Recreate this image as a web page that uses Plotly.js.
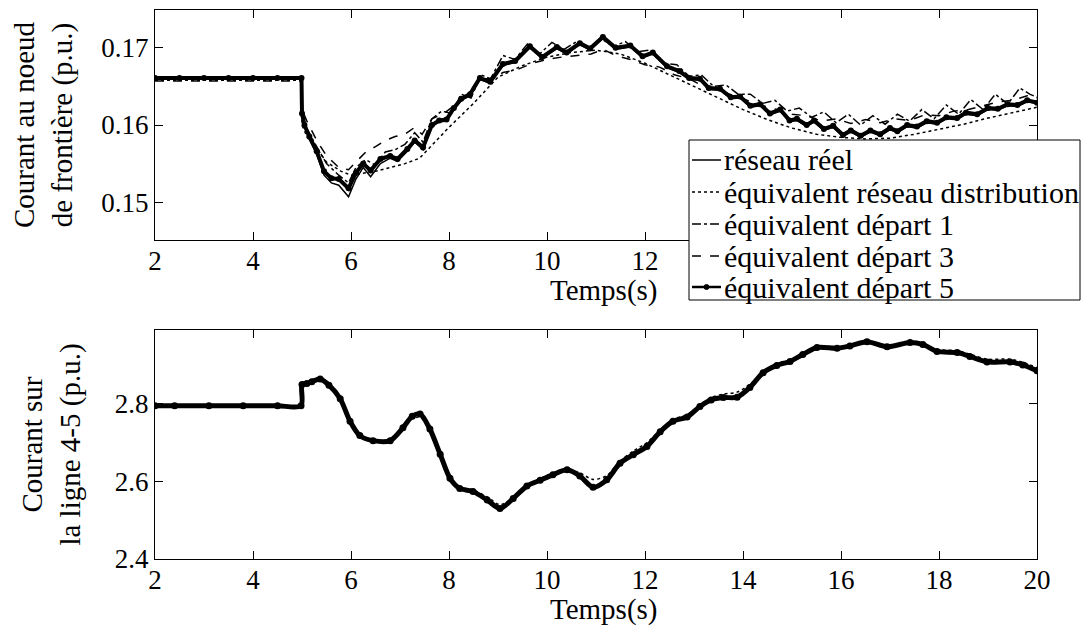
<!DOCTYPE html>
<html>
<head>
<meta charset="utf-8">
<script src="https://cdn.plot.ly/plotly-3.0.1.min.js"></script>
<style>html,body{margin:0;padding:0;background:#fff;}#chart{width:1087px;height:625px;}</style>
</head>
<body>
<div id="chart"></div>
<script>
// ---------- Top plot: Courant au noeud de frontière ----------
const haut_t5 = [2, 2.5, 3.0, 3.5, 4.0, 4.5, 4.99, 5.0, 5.05, 5.15, 5.3, 5.45, 5.6, 5.75, 5.95, 6.1, 6.25, 6.4, 6.6, 6.8, 6.95, 7.15, 7.3, 7.47, 7.65, 7.8, 7.95, 8.1, 8.25, 8.43, 8.63, 8.84, 9.1, 9.35, 9.65, 9.9, 10.2, 10.4, 10.67, 10.88, 11.14, 11.4, 11.7, 11.95, 12.16, 12.45, 12.7, 12.9, 13.12, 13.3, 13.53, 13.75, 13.94, 14.15, 14.35, 14.55, 14.76, 14.95, 15.1, 15.3, 15.45, 15.65, 15.84, 16.04, 16.2, 16.4, 16.6, 16.8, 17.0, 17.15, 17.35, 17.55, 17.75, 17.96, 18.15, 18.37, 18.55, 18.78, 19.0, 19.2, 19.4, 19.6, 19.8, 20];
const haut_depart5 = [0.1661, 0.1661, 0.1661, 0.1661, 0.1661, 0.1661, 0.1661, 0.1615, 0.1600, 0.1585, 0.1566, 0.1540, 0.1531, 0.1530, 0.1518, 0.1538, 0.1550, 0.1541, 0.1556, 0.1560, 0.1556, 0.1569, 0.1580, 0.1571, 0.1600, 0.1606, 0.1607, 0.1622, 0.1634, 0.1640, 0.1661, 0.1656, 0.1679, 0.1683, 0.1702, 0.1688, 0.1701, 0.1694, 0.1706, 0.1699, 0.1714, 0.1700, 0.1703, 0.1689, 0.1694, 0.1676, 0.1670, 0.1661, 0.1660, 0.1648, 0.1647, 0.1636, 0.1637, 0.1625, 0.1627, 0.1615, 0.1620, 0.1606, 0.1608, 0.1600, 0.1606, 0.1595, 0.1599, 0.1587, 0.1593, 0.1586, 0.1593, 0.1588, 0.1596, 0.1592, 0.1600, 0.1598, 0.1605, 0.1603, 0.1610, 0.1609, 0.1616, 0.1614, 0.1622, 0.1621, 0.1627, 0.1626, 0.1632, 0.1629];
const haut_reel = [0.1661, 0.1661, 0.1661, 0.1661, 0.1661, 0.1661, 0.1661, 0.1610, 0.1598, 0.1582, 0.1562, 0.1535, 0.1525, 0.1522, 0.1507, 0.1530, 0.1545, 0.1533, 0.1550, 0.1557, 0.1553, 0.1566, 0.1578, 0.1568, 0.1598, 0.1604, 0.1605, 0.1620, 0.1632, 0.1638, 0.1659, 0.1654, 0.1677, 0.1681, 0.1700, 0.1686, 0.1699, 0.1692, 0.1704, 0.1697, 0.1712, 0.1698, 0.1701, 0.1687, 0.1692, 0.1674, 0.1668, 0.1659, 0.1658, 0.1646, 0.1645, 0.1634, 0.1635, 0.1623, 0.1625, 0.1613, 0.1618, 0.1604, 0.1606, 0.1598, 0.1604, 0.1593, 0.1597, 0.1585, 0.1591, 0.1584, 0.1591, 0.1586, 0.1594, 0.1590, 0.1598, 0.1596, 0.1603, 0.1601, 0.1608, 0.1607, 0.1614, 0.1612, 0.1620, 0.1619, 0.1625, 0.1624, 0.1630, 0.1628];

const haut_tD = [2, 4.99, 5.0, 5.1, 5.3, 5.5, 5.8, 6.0, 6.2, 6.5, 6.8, 7.1, 7.4, 7.6, 8.0, 8.5, 9.0, 9.5, 10.0, 10.5, 11.0, 11.5, 12.0, 12.5, 13.0, 13.5, 14.0, 14.5, 15.0, 15.5, 16.0, 16.5, 17.0, 17.5, 18.0, 18.5, 19.0, 19.5, 20];
const haut_distrib = [0.1658, 0.1658, 0.1600, 0.1585, 0.1570, 0.1552, 0.1540, 0.1535, 0.1537, 0.1540, 0.1545, 0.1550, 0.1557, 0.1570, 0.1597, 0.1628, 0.1662, 0.1677, 0.1688, 0.1694, 0.1697, 0.1692, 0.1680, 0.1665, 0.1650, 0.1635, 0.1620, 0.1607, 0.1596, 0.1588, 0.1584, 0.1582, 0.1583, 0.1588, 0.1595, 0.1601, 0.1609, 0.1616, 0.1623];

const haut_t1 = [2, 4.99, 5.0, 5.1, 5.3, 5.5, 5.75, 5.95, 6.1, 6.3, 6.5, 6.7, 6.9, 7.1, 7.3, 7.47, 7.65, 7.85, 8.05, 8.25, 8.45, 8.65, 8.85, 9.1, 9.35, 9.6, 9.85, 10.1, 10.35, 10.6, 10.85, 11.1, 11.35, 11.6, 11.85, 12.1, 12.4, 12.65, 12.9, 13.15, 13.4, 13.65, 13.9, 14.15, 14.4, 14.65, 14.9, 15.15, 15.4, 15.65, 15.9, 16.15, 16.4, 16.65, 16.9, 17.15, 17.4, 17.65, 17.9, 18.15, 18.4, 18.65, 18.9, 19.15, 19.4, 19.65, 19.85, 20];
const haut_depart1 = [0.1661, 0.1662, 0.1610, 0.1595, 0.1572, 0.1550, 0.1535, 0.1525, 0.1545, 0.1555, 0.1548, 0.1565, 0.1568, 0.1575, 0.1590, 0.1578, 0.1608, 0.1618, 0.1615, 0.1640, 0.1635, 0.1665, 0.1660, 0.1690, 0.1685, 0.1705, 0.1692, 0.1707, 0.1698, 0.1708, 0.1700, 0.1712, 0.1702, 0.1708, 0.1695, 0.1697, 0.1680, 0.1678, 0.1663, 0.1665, 0.1650, 0.1652, 0.1640, 0.1640, 0.1628, 0.1632, 0.1618, 0.1622, 0.1610, 0.1617, 0.1603, 0.1614, 0.1600, 0.1612, 0.1601, 0.1614, 0.1605, 0.1620, 0.1608, 0.1626, 0.1614, 0.1633, 0.1620, 0.1640, 0.1627, 0.1648, 0.1640, 0.1636];

const haut_t3 = [2, 4.99, 5.0, 5.1, 5.3, 5.5, 5.75, 5.95, 6.1, 6.3, 6.5, 6.7, 6.9, 7.1, 7.3, 7.45, 7.65, 7.9, 8.1, 8.4, 8.6, 8.9, 9.1, 9.4, 9.7, 10.0, 10.3, 10.6, 10.9, 11.15, 11.4, 11.7, 12.0, 12.3, 12.6, 12.9, 13.2, 13.5, 13.8, 14.1, 14.4, 14.7, 15.0, 15.3, 15.6, 15.9, 16.2, 16.5, 16.8, 17.1, 17.4, 17.7, 18.0, 18.3, 18.6, 18.9, 19.2, 19.5, 19.8, 20];
const haut_depart3 = [0.1657, 0.1657, 0.1620, 0.1605, 0.1580, 0.1560, 0.1545, 0.1542, 0.1552, 0.1565, 0.1572, 0.1580, 0.1585, 0.1588, 0.1597, 0.1588, 0.1608, 0.1615, 0.1625, 0.1640, 0.1660, 0.1660, 0.1668, 0.1672, 0.1680, 0.1685, 0.1688, 0.1690, 0.1692, 0.1698, 0.1690, 0.1685, 0.1678, 0.1675, 0.1665, 0.1660, 0.1650, 0.1645, 0.1638, 0.1632, 0.1625, 0.1620, 0.1614, 0.1612, 0.1605, 0.1608, 0.1602, 0.1607, 0.1603, 0.1608, 0.1606, 0.1613, 0.1612, 0.1618, 0.1620, 0.1625, 0.1630, 0.1632, 0.1638, 0.1635];

// ---------- Bottom plot: Courant sur la ligne 4-5 ----------
const bas_t = [2, 2.4, 3.1, 3.8, 4.5, 4.98, 5.0, 5.1, 5.2, 5.37, 5.55, 5.78, 5.98, 6.18, 6.45, 6.8, 7.06, 7.25, 7.41, 7.61, 7.82, 8.02, 8.22, 8.49, 8.78, 9.04, 9.31, 9.59, 9.86, 10.12, 10.41, 10.67, 10.94, 11.22, 11.49, 11.76, 12.04, 12.31, 12.57, 12.86, 13.12, 13.35, 13.6, 13.88, 14.14, 14.41, 14.69, 14.96, 15.22, 15.51, 15.92, 16.18, 16.53, 16.94, 17.41, 17.67, 17.96, 18.37, 18.63, 18.98, 19.45, 19.71, 20];
const bas_depart5 = [2.795, 2.795, 2.795, 2.795, 2.795, 2.795, 2.850, 2.852, 2.857, 2.864, 2.848, 2.813, 2.755, 2.718, 2.705, 2.705, 2.738, 2.768, 2.774, 2.735, 2.670, 2.608, 2.582, 2.574, 2.552, 2.530, 2.556, 2.588, 2.603, 2.617, 2.630, 2.614, 2.585, 2.604, 2.647, 2.669, 2.690, 2.728, 2.755, 2.766, 2.793, 2.810, 2.816, 2.817, 2.842, 2.880, 2.899, 2.909, 2.927, 2.945, 2.943, 2.949, 2.960, 2.947, 2.958, 2.953, 2.935, 2.932, 2.922, 2.908, 2.908, 2.900, 2.885];
const bas_reel = [2.795, 2.795, 2.795, 2.795, 2.795, 2.795, 2.850, 2.852, 2.857, 2.864, 2.848, 2.813, 2.755, 2.718, 2.705, 2.705, 2.738, 2.768, 2.774, 2.735, 2.670, 2.608, 2.582, 2.574, 2.552, 2.530, 2.556, 2.588, 2.603, 2.617, 2.630, 2.614, 2.585, 2.604, 2.647, 2.669, 2.690, 2.728, 2.755, 2.766, 2.793, 2.810, 2.816, 2.817, 2.842, 2.880, 2.899, 2.909, 2.927, 2.945, 2.943, 2.949, 2.960, 2.947, 2.958, 2.953, 2.935, 2.932, 2.922, 2.908, 2.908, 2.900, 2.885];
const bas_distrib = [2.795, 2.795, 2.795, 2.795, 2.795, 2.795, 2.850, 2.852, 2.857, 2.864, 2.848, 2.813, 2.755, 2.718, 2.705, 2.705, 2.736, 2.762, 2.765, 2.733, 2.672, 2.612, 2.585, 2.578, 2.560, 2.540, 2.558, 2.590, 2.607, 2.622, 2.632, 2.622, 2.605, 2.615, 2.652, 2.678, 2.700, 2.732, 2.760, 2.772, 2.797, 2.816, 2.825, 2.830, 2.850, 2.875, 2.905, 2.912, 2.930, 2.946, 2.945, 2.951, 2.961, 2.950, 2.959, 2.955, 2.940, 2.937, 2.928, 2.915, 2.915, 2.907, 2.893];

const noms = ["réseau réel", "équivalent réseau distribution", "équivalent départ 1", "équivalent départ 3", "équivalent départ 5"];
const xTicks = [2, 4, 6, 8, 10, 12, 14, 16, 18, 20];
const yTicksHaut = [0.15, 0.16, 0.17];
const yTicksBas = [2.4, 2.6, 2.8];

const FONT = "Liberation Serif";
const k = '#000';

const styles = [
  {line: {color: k, width: 1.5}, mode: 'lines'},
  {line: {color: k, width: 1.5, dash: 'dot'}, mode: 'lines'},
  {line: {color: k, width: 1.5, dash: 'dashdot'}, mode: 'lines'},
  {line: {color: k, width: 1.5, dash: 'dash'}, mode: 'lines'},
  {line: {color: k, width: 4}, mode: 'lines+markers', marker: {color: k, size: 6}}
];

const hautX = [haut_t5, haut_tD, haut_t1, haut_t3, haut_t5];
const hautY = [haut_reel, haut_distrib, haut_depart1, haut_depart3, haut_depart5];

const traces = [];
for (let i = 0; i < 5; i++) {
  traces.push(Object.assign({x: hautX[i], y: hautY[i], name: noms[i], xaxis: 'x', yaxis: 'y', showlegend: false}, styles[i]));
}
traces.push({x: bas_t, y: bas_distrib, name: noms[1], showlegend: false, mode: 'lines', line: {color: k, width: 1.5, dash: 'dot', shape: 'spline', smoothing: 0.8}, xaxis: 'x2', yaxis: 'y2'});
traces.push({x: bas_t, y: bas_reel, name: noms[0], showlegend: false, mode: 'lines', line: {color: k, width: 1.5, shape: 'spline', smoothing: 0.8}, xaxis: 'x2', yaxis: 'y2'});
traces.push({x: bas_t, y: bas_depart5, name: noms[4], showlegend: false, mode: 'lines+markers', line: {color: k, width: 5, shape: 'spline', smoothing: 0.8}, marker: {color: k, size: 7}, xaxis: 'x2', yaxis: 'y2'});

// pixel helpers for the hand-made legend (plot area: x 155..1037, y 10..559)
const px = v => (v - 155) / 882;
const py = v => (559 - v) / 549;

const shapes = [];
const annotations = [];
shapes.push({type: 'rect', xref: 'paper', yref: 'paper', x0: px(689), x1: px(1080), y0: py(300), y1: py(140),
  fillcolor: '#fff', line: {color: k, width: 1}, layer: 'above'});
const legY = [160, 192, 224, 256, 287];
const dashes = ['solid', 'dot', 'dashdot', 'dash', 'solid'];
for (let i = 0; i < 5; i++) {
  shapes.push({type: 'line', xref: 'paper', yref: 'paper', x0: px(692), x1: px(721), y0: py(legY[i]), y1: py(legY[i]),
    line: {color: k, width: i === 4 ? 2.5 : 1.5, dash: dashes[i]}, layer: 'above'});
  annotations.push({xref: 'paper', yref: 'paper', x: px(722), y: py(legY[i]), xanchor: 'left', yanchor: 'middle',
    text: noms[i], showarrow: false, font: {family: FONT, size: 30, color: k}});
}
shapes.push({type: 'circle', xref: 'paper', yref: 'paper', x0: px(704), x1: px(709), y0: py(legY[4] + 2.5), y1: py(legY[4] - 2.5),
  fillcolor: k, line: {color: k, width: 1}, layer: 'above'});

// axis titles "Temps(s)"
annotations.push({xref: 'paper', yref: 'paper', x: px(604), y: py(290), xanchor: 'center', yanchor: 'middle',
  text: 'Temps(s)', showarrow: false, font: {family: FONT, size: 29, color: k}});
annotations.push({xref: 'paper', yref: 'paper', x: px(604), y: py(609), xanchor: 'center', yanchor: 'middle',
  text: 'Temps(s)', showarrow: false, font: {family: FONT, size: 29, color: k}});

const axCommon = {
  showline: true, linecolor: k, linewidth: 1.2, mirror: 'ticks',
  ticks: 'inside', ticklen: 8, tickcolor: k, tickwidth: 1,
  showgrid: false, zeroline: false,
  tickfont: {family: FONT, size: 27, color: k}
};

const layout = {
  width: 1087, height: 625,
  margin: {l: 155, r: 50, t: 10, b: 66},
  paper_bgcolor: '#fff', plot_bgcolor: '#fff',
  font: {family: FONT, color: k, size: 27},
  showlegend: false,
  shapes: shapes,
  annotations: annotations,
  xaxis: Object.assign({}, axCommon, {
    domain: [0, 1], anchor: 'y', range: [2, 20], tickvals: xTicks, ticklabelstandoff: -4,
    ticktext: xTicks.map(v => v >= 14 ? '' : String(v))
  }),
  yaxis: Object.assign({}, axCommon, {
    domain: [0.581, 1], anchor: 'x', range: [0.1451, 0.1749], tickvals: yTicksHaut, ticktext: yTicksHaut.map(v => v.toFixed(2)),
    title: {text: 'Courant au noeud<br>de frontière (p.u.)', font: {family: FONT, size: 29, color: k}, standoff: 20}
  }),
  xaxis2: Object.assign({}, axCommon, {
    domain: [0, 1], anchor: 'y2', range: [2, 20], tickvals: xTicks, ticklabelstandoff: -4, ticktext: xTicks.map(String)
  }),
  yaxis2: Object.assign({}, axCommon, {
    domain: [0, 0.417], anchor: 'x2', range: [2.4, 2.99], tickvals: yTicksBas, ticktext: yTicksBas.map(v => v.toFixed(1)),
    title: {text: 'Courant sur<br>la ligne 4-5 (p.u.)', font: {family: FONT, size: 29, color: k}, standoff: 25}
  })
};

Plotly.newPlot('chart', traces, layout, {staticPlot: true, displayModeBar: false});
</script>
</body>
</html>
